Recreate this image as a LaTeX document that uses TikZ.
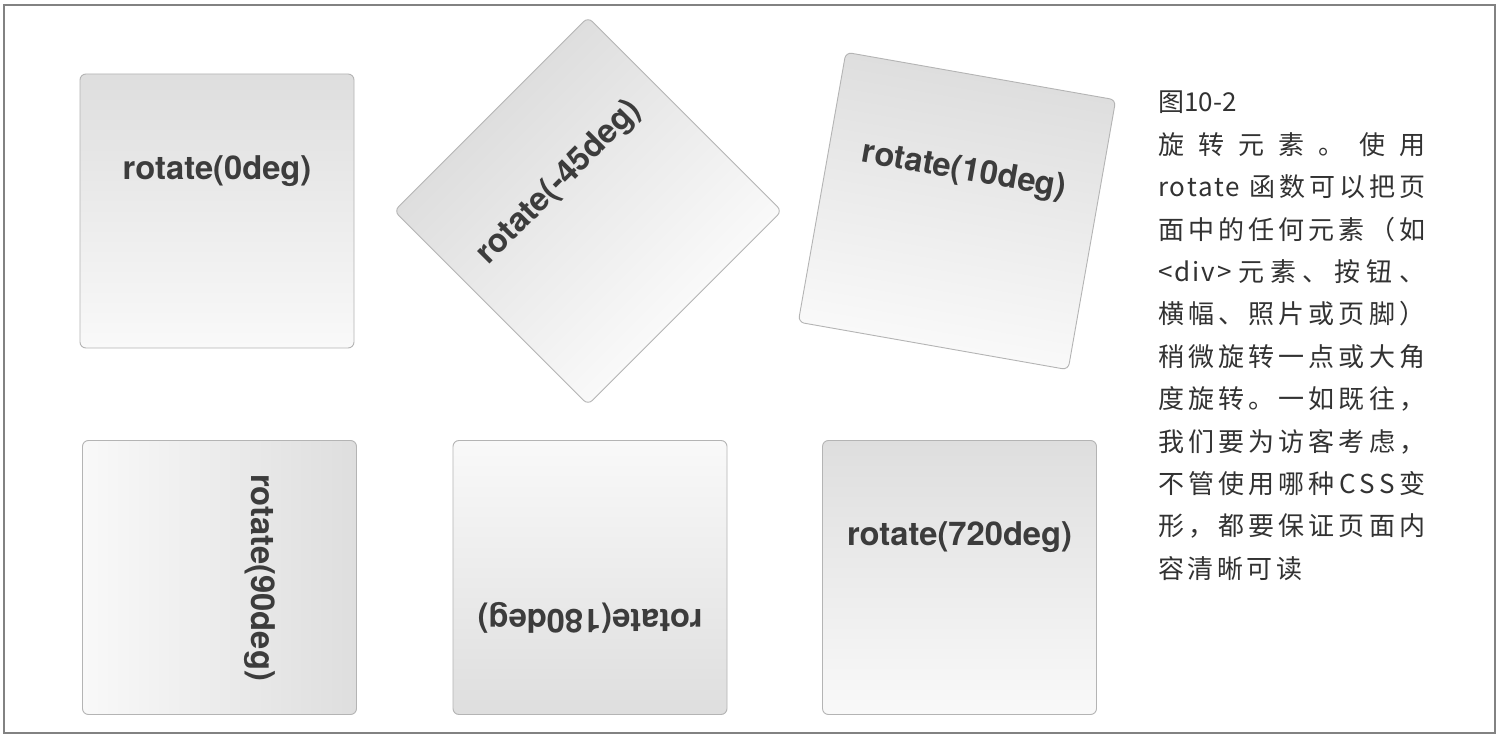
\documentclass[tikz,border=0pt]{standalone}
\usepackage{fontspec}
\newfontfamily\labfam{TeX Gyre Heros}
\newfontfamily\cjk{Noto Sans CJK SC}
\definecolor{cardtop}{RGB}{222,222,222}
\definecolor{cardbot}{RGB}{249,249,249}
\definecolor{cardline}{RGB}{180,180,180}
\definecolor{labcol}{RGB}{60,60,60}
\definecolor{notecol}{RGB}{50,50,50}
\definecolor{framecol}{RGB}{130,130,130}
\newcommand\jst[1]{\makebox[267pt][s]{#1}}
\begin{document}
\begin{tikzpicture}[x=1pt,y=1pt,
  card/.style={draw=cardline, line width=0.9pt, rounded corners=6pt,
    minimum width=274pt, minimum height=274pt, inner sep=0pt,
    top color=cardtop, bottom color=cardbot},
  lab/.style={font=\labfam\bfseries\fontsize{32.7}{36}\selectfont, text=labcol, inner sep=0pt},
  note/.style={font=\cjk\fontsize{26}{30}\selectfont, text=notecol, inner sep=0pt, anchor=base west}]
\useasboundingbox (0,0) rectangle (1498,736);
\fill[white] (0,0) rectangle (1498,736);
\draw[framecol, line width=1.5pt] (4,3) rectangle (1495,731);

% row 1
\begin{scope}[transform canvas={shift={(217,525)}}]
  \node[card] (c0) at (0,0) {};
  \node[lab] (l0) at (0,40) {rotate(0deg)};
\end{scope}
\begin{scope}[transform canvas={shift={(588,525)},rotate=45}]
  \node[card] (c45) at (0,0) {};
  \node[lab] (l45) at (0,40) {rotate(-45deg)};
\end{scope}
\begin{scope}[transform canvas={shift={(957,525)},rotate=-10}]
  \node[card] (c10) at (0,0) {};
  \node[lab] (l10) at (0,40) {rotate(10deg)};
\end{scope}
% row 2
\begin{scope}[transform canvas={shift={(219.5,158.5)},rotate=-90}]
  \node[card] (c90) at (0,0) {};
  \node[lab] (l90) at (0,40) {rotate(90deg)};
\end{scope}
\begin{scope}[transform canvas={shift={(590,158.5)},rotate=180}]
  \node[card] (c180) at (0,0) {};
  \node[lab] (l180) at (0,40) {rotate(180deg)};
\end{scope}
\begin{scope}[transform canvas={shift={(959.5,158.5)},rotate=-720}]
  \node[card] (c720) at (0,0) {};
  \node[lab] (l720) at (0,40) {rotate(720deg)};
\end{scope}

% caption
\node[note] (n0) at (1158,624) {图10-2};
\node[note] (n1) at (1158,581.6) {\jst{旋\hfil 转\hfil 元\hfil 素\hfil 。\hfil 使\hfil 用}};
\node[note] (n2) at (1158,539.2) {\jst{r\kern1.5pt o\kern1.5pt t\kern1.5pt a\kern1.5pt t\kern1.5pt e\kern9pt 函\hfil 数\hfil 可\hfil 以\hfil 把\hfil 页}};
\node[note] (n3) at (1158,496.8) {\jst{面\hfil 中\hfil 的\hfil 任\hfil 何\hfil 元\hfil 素\hfil （\hfil 如}};
\node[note] (n4) at (1158,454.4) {\jst{<\kern2pt d\kern2pt i\kern2pt v\kern2pt >\hfil 元\hfil 素\hfil 、\hfil 按\hfil 钮\hfil 、}};
\node[note] (n5) at (1158,412) {\jst{横\hfil 幅\hfil 、\hfil 照\hfil 片\hfil 或\hfil 页\hfil 脚\hfil ）}};
\node[note] (n6) at (1158,369.6) {\jst{稍\hfil 微\hfil 旋\hfil 转\hfil 一\hfil 点\hfil 或\hfil 大\hfil 角}};
\node[note] (n7) at (1158,327.2) {\jst{度\hfil 旋\hfil 转\hfil 。\hfil 一\hfil 如\hfil 既\hfil 往\hfil ，}};
\node[note] (n8) at (1158,284.8) {\jst{我\hfil 们\hfil 要\hfil 为\hfil 访\hfil 客\hfil 考\hfil 虑\hfil ，}};
\node[note] (n9) at (1158,242.4) {\jst{不\hfil 管\hfil 使\hfil 用\hfil 哪\hfil 种\hfil C\hfil S\hfil S\hfil 变}};
\node[note] (n10) at (1158,200) {\jst{形\hfil ，\hfil 都\hfil 要\hfil 保\hfil 证\hfil 页\hfil 面\hfil 内}};
\node[note] (n11) at (1158,157.6) {容\kern3.5pt 清\kern3.5pt 晰\kern3.5pt 可\kern3.5pt 读};
\end{tikzpicture}
\end{document}
